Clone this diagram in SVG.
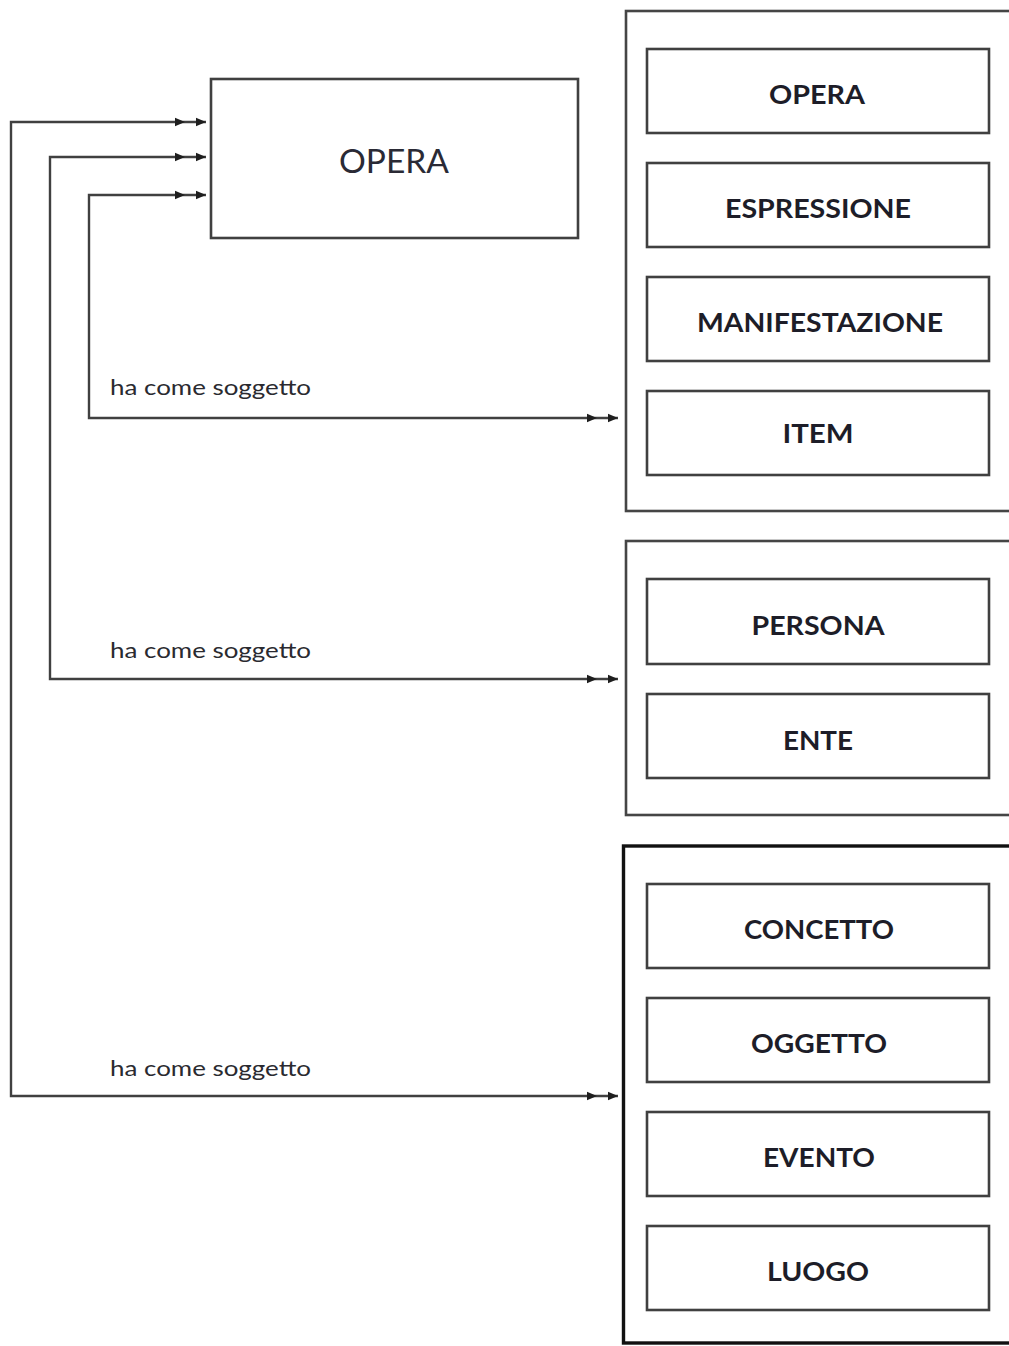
<svg xmlns="http://www.w3.org/2000/svg" width="1009" height="1346" viewBox="0 0 1009 1346">
  <style>
    .box { fill: #ffffff; stroke: #404040; stroke-width: 2.6; }
    .frame { fill: none; stroke: #454545; stroke-width: 2.6; }
    .frame-strong { fill: none; stroke: #111111; stroke-width: 3.4; }
    .lbl { font-family: Lato, "Open Sans", "Liberation Sans", sans-serif; font-weight: bold; font-size: 26px; fill: #1d1d28; text-anchor: middle; }
    .main { font-family: Lato, "Open Sans", "Liberation Sans", sans-serif; font-size: 32px; fill: #2a2a35; text-anchor: middle; }
    .rel { font-family: Lato, "Open Sans", "Liberation Sans", sans-serif; font-size: 21px; fill: #2a2a30; }
    .wire { fill: none; stroke: #404040; stroke-width: 2.4; marker-start: url(#dbl); marker-end: url(#dbl); }
  </style>
  <defs>
    <!-- double filled arrowhead, reversed at the path start -->
    <marker id="dbl" markerUnits="userSpaceOnUse" markerWidth="34" markerHeight="12" viewBox="-32 -6 34 12" refX="0" refY="0" orient="auto-start-reverse">
      <path d="M-10,-4.2 L0,0 L-10,4.2 Z M-31,-4.2 L-21,0 L-31,4.2 Z" fill="#1e1e1e"/>
    </marker>
  </defs>
  <rect width="1009" height="1346" fill="#ffffff"/>

  <!-- group frames -->
  <g id="group-works">
    <rect class="frame" x="626" y="11" width="420" height="500"/>
  </g>
  <g id="group-agents">
    <rect class="frame" x="626" y="541" width="420" height="274"/>
  </g>
  <g id="group-subjects">
    <rect class="frame-strong" x="623.5" y="846" width="420" height="497"/>
  </g>

  <!-- main node -->
  <g id="node-opera-main">
    <rect class="box" x="211" y="79" width="367" height="159"/>
    <text class="main" x="394" y="173" textLength="110" lengthAdjust="spacingAndGlyphs">OPERA</text>
  </g>

  <!-- group 1 entities -->
  <g id="node-opera">
    <rect class="box" x="647" y="49" width="342" height="84"/>
    <text class="lbl" x="817" y="104" textLength="96" lengthAdjust="spacingAndGlyphs">OPERA</text>
  </g>
  <g id="node-espressione">
    <rect class="box" x="647" y="163" width="342" height="84"/>
    <text class="lbl" x="818" y="218" textLength="186" lengthAdjust="spacingAndGlyphs">ESPRESSIONE</text>
  </g>
  <g id="node-manifestazione">
    <rect class="box" x="647" y="277" width="342" height="84"/>
    <text class="lbl" x="820" y="332" textLength="246" lengthAdjust="spacingAndGlyphs">MANIFESTAZIONE</text>
  </g>
  <g id="node-item">
    <rect class="box" x="647" y="391" width="342" height="84"/>
    <text class="lbl" x="818" y="443" textLength="71" lengthAdjust="spacingAndGlyphs">ITEM</text>
  </g>

  <!-- group 2 entities -->
  <g id="node-persona">
    <rect class="box" x="647" y="579" width="342" height="85"/>
    <text class="lbl" x="818" y="635" textLength="133" lengthAdjust="spacingAndGlyphs">PERSONA</text>
  </g>
  <g id="node-ente">
    <rect class="box" x="647" y="694" width="342" height="84"/>
    <text class="lbl" x="818" y="750" textLength="70" lengthAdjust="spacingAndGlyphs">ENTE</text>
  </g>

  <!-- group 3 entities -->
  <g id="node-concetto">
    <rect class="box" x="647" y="884" width="342" height="84"/>
    <text class="lbl" x="819" y="939" textLength="150" lengthAdjust="spacingAndGlyphs">CONCETTO</text>
  </g>
  <g id="node-oggetto">
    <rect class="box" x="647" y="998" width="342" height="84"/>
    <text class="lbl" x="819" y="1053" textLength="136" lengthAdjust="spacingAndGlyphs">OGGETTO</text>
  </g>
  <g id="node-evento">
    <rect class="box" x="647" y="1112" width="342" height="84"/>
    <text class="lbl" x="819" y="1167" textLength="112" lengthAdjust="spacingAndGlyphs">EVENTO</text>
  </g>
  <g id="node-luogo">
    <rect class="box" x="647" y="1226" width="342" height="84"/>
    <text class="lbl" x="818" y="1281" textLength="102" lengthAdjust="spacingAndGlyphs">LUOGO</text>
  </g>

  <!-- connectors: main node to each group, arrowheads at both ends -->
  <g id="connectors">
    <path class="wire" d="M206,195 L89,195 L89,418 L618,418"/>
    <path class="wire" d="M206,157 L50,157 L50,679 L618,679"/>
    <path class="wire" d="M206,122 L11,122 L11,1096 L618,1096"/>
    <text class="rel" x="110" y="395" textLength="201" lengthAdjust="spacingAndGlyphs">ha come soggetto</text>
    <text class="rel" x="110" y="658" textLength="201" lengthAdjust="spacingAndGlyphs">ha come soggetto</text>
    <text class="rel" x="110" y="1076" textLength="201" lengthAdjust="spacingAndGlyphs">ha come soggetto</text>
  </g>
</svg>
